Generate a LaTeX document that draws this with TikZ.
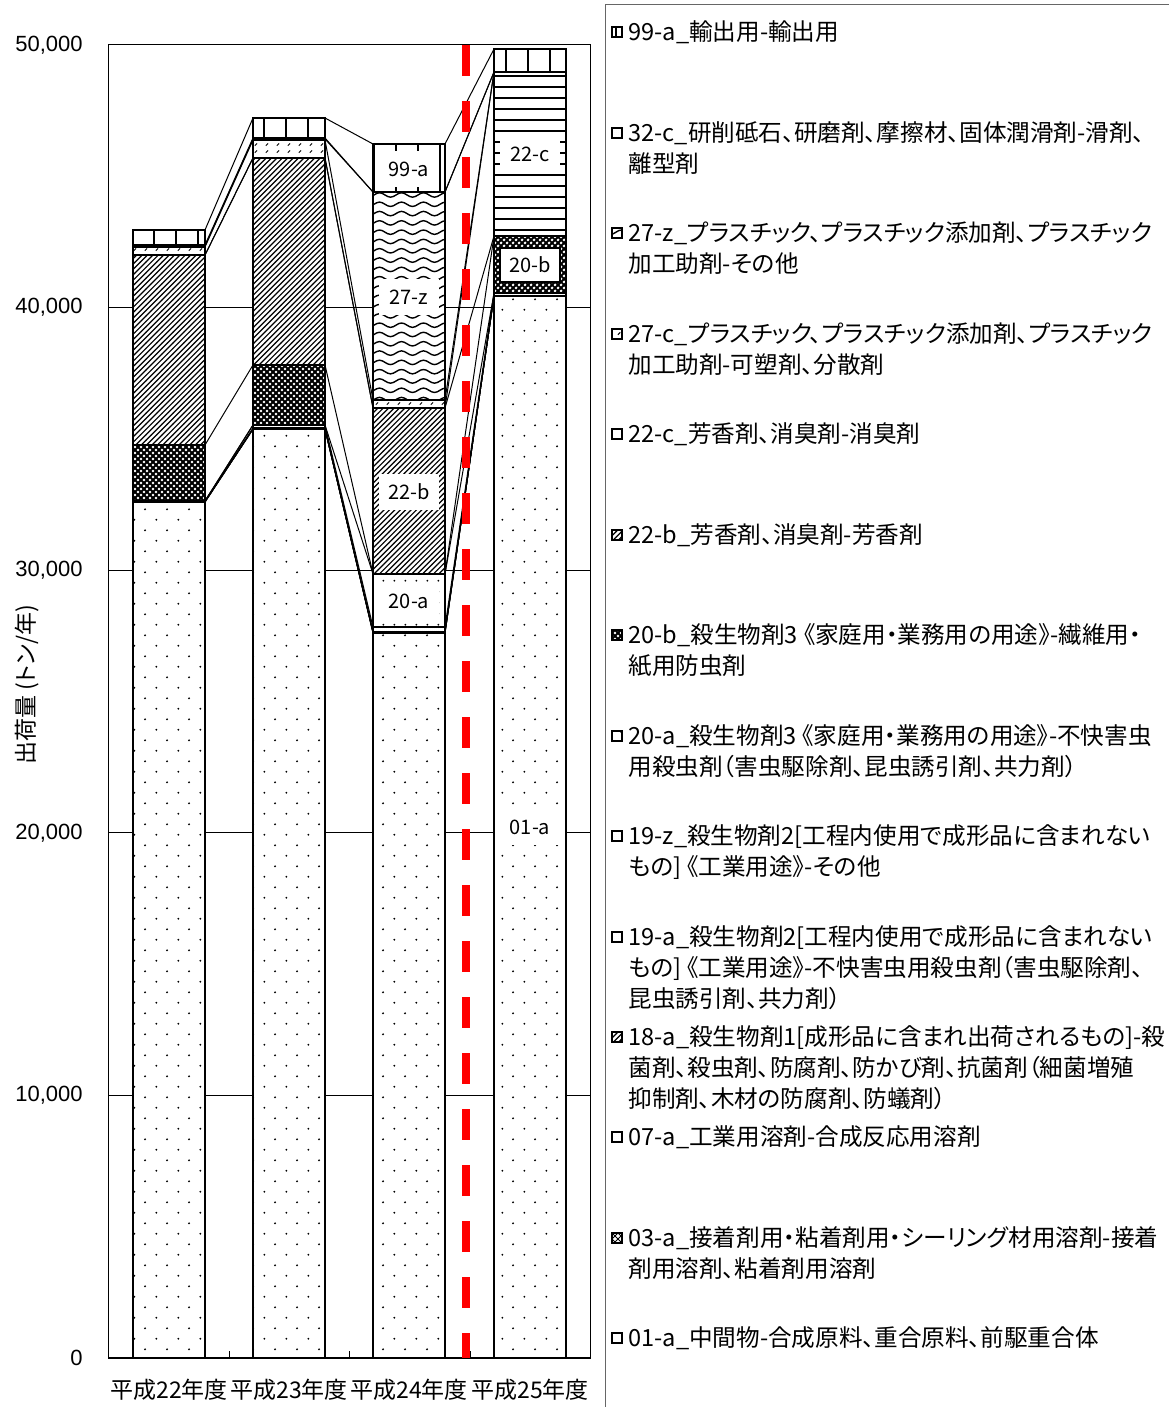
\documentclass[tikz,border=0pt]{standalone}
\usepackage{fontspec}
\setmainfont{Noto Sans CJK JP}[RawFeature={+palt}]
\newfontfamily\numfont{Liberation Sans}
\usetikzlibrary{patterns}

\pgfdeclarepatternformonly{sparsedots}{\pgfqpoint{0pt}{0pt}}{\pgfqpoint{10.8pt}{10.7pt}}{\pgfqpoint{10.8pt}{10.7pt}}{%
  \pgfpathcircle{\pgfqpoint{2.7pt}{2.7pt}}{0.55pt}%
  \pgfpathcircle{\pgfqpoint{8.1pt}{8.05pt}}{0.55pt}%
  \pgfusepath{fill}}
\pgfdeclarepatternformonly{finedots}{\pgfqpoint{0pt}{0pt}}{\pgfqpoint{5.4pt}{5.4pt}}{\pgfqpoint{5.4pt}{5.4pt}}{%
  \pgfpathcircle{\pgfqpoint{2.7pt}{2.7pt}}{0.5pt}%
  \pgfusepath{fill}}
\pgfdeclarepatternformonly{hatch}{\pgfqpoint{-1pt}{-1pt}}{\pgfqpoint{3.7pt}{3.7pt}}{\pgfqpoint{2.7pt}{2.7pt}}{%
  \pgfsetlinewidth{0.6pt}%
  \pgfpathmoveto{\pgfqpoint{0pt}{0pt}}\pgfpathlineto{\pgfqpoint{2.8pt}{2.8pt}}%
  \pgfusepath{stroke}}
\pgfdeclarepatternformonly{crosslines}{\pgfqpoint{-1pt}{-1pt}}{\pgfqpoint{4pt}{4pt}}{\pgfqpoint{3pt}{3pt}}{%
  \pgfsetlinewidth{0.4pt}%
  \pgfpathmoveto{\pgfqpoint{0pt}{0pt}}\pgfpathlineto{\pgfqpoint{3.1pt}{3.1pt}}%
  \pgfpathmoveto{\pgfqpoint{0pt}{3pt}}\pgfpathlineto{\pgfqpoint{3.1pt}{-0.1pt}}%
  \pgfusepath{stroke}}
\pgfdeclarepatternformonly{crossdark}{\pgfqpoint{-1pt}{-1pt}}{\pgfqpoint{4pt}{4pt}}{\pgfqpoint{3pt}{3pt}}{%
  \pgfsetlinewidth{0.9pt}%
  \pgfpathmoveto{\pgfqpoint{0pt}{0pt}}\pgfpathlineto{\pgfqpoint{3.1pt}{3.1pt}}%
  \pgfpathmoveto{\pgfqpoint{0pt}{3pt}}\pgfpathlineto{\pgfqpoint{3.1pt}{-0.1pt}}%
  \pgfusepath{stroke}}
\pgfdeclarepatternformonly{hlines}{\pgfqpoint{-1pt}{-1pt}}{\pgfqpoint{6.5pt}{6.5pt}}{\pgfqpoint{5.5pt}{5.5pt}}{%
  \pgfsetlinewidth{0.8pt}%
  \pgfpathmoveto{\pgfqpoint{-1pt}{0pt}}\pgfpathlineto{\pgfqpoint{6.5pt}{0pt}}%
  \pgfusepath{stroke}}
\pgfdeclarepatternformonly{vgrid}{\pgfqpoint{-1pt}{-1pt}}{\pgfqpoint{12pt}{12pt}}{\pgfqpoint{11pt}{11pt}}{%
  \pgfsetlinewidth{0.9pt}%
  \pgfpathmoveto{\pgfqpoint{0pt}{-1pt}}\pgfpathlineto{\pgfqpoint{0pt}{12pt}}%
  \pgfusepath{stroke}}
\pgfdeclarepatternformonly{wave}{\pgfqpoint{-0.5pt}{-0.5pt}}{\pgfqpoint{11.5pt}{5.15pt}}{\pgfqpoint{11pt}{4.65pt}}{%
  \pgfsetlinewidth{0.7pt}%
  \pgfpathmoveto{\pgfqpoint{0pt}{1.5pt}}%
  \pgfpathsine{\pgfqpoint{2.75pt}{1.1pt}}%
  \pgfpathcosine{\pgfqpoint{2.75pt}{-1.1pt}}%
  \pgfpathsine{\pgfqpoint{2.75pt}{-1.1pt}}%
  \pgfpathcosine{\pgfqpoint{2.75pt}{1.1pt}}%
  \pgfusepath{stroke}}
\pgfdeclarepatternformonly{dashdiag}{\pgfqpoint{0pt}{0pt}}{\pgfqpoint{5.5pt}{3.5pt}}{\pgfqpoint{5.5pt}{3.5pt}}{%
  \pgfsetlinewidth{0.5pt}%
  \pgfpathmoveto{\pgfqpoint{1pt}{0.7pt}}\pgfpathlineto{\pgfqpoint{2.2pt}{1.9pt}}%
  \pgfusepath{stroke}}
\pgfdeclarepatternformonly{blank}{\pgfqpoint{0pt}{0pt}}{\pgfqpoint{1pt}{1pt}}{\pgfqpoint{1pt}{1pt}}{%
  \pgfpathcircle{\pgfqpoint{0.5pt}{0.5pt}}{0.01pt}%
  \pgfusepath{fill}}

\begin{document}
\begin{tikzpicture}[x=0.5pt,y=-0.5pt,
  seg/.style={draw=black,line width=1pt,preaction={fill=white}},
  serline/.style={line width=0.5pt},
  gridline/.style={line width=0.5pt},
  barlabel/.style={fill=white,inner sep=0pt,minimum width=30pt,minimum height=18pt,font=\fontsize{10}{12}\selectfont},
  legicon/.style={draw=black,line width=0.8pt,preaction={fill=white}},
  legtext/.style={anchor=north west,inner sep=0pt,align=left,font=\fontsize{11.8}{15.5}\selectfont}]
  \useasboundingbox (0,0) rectangle (1168,1407);
  % plot area and grid
  \draw[gridline] (108,45) rectangle (590,1358);
  \foreach \k in {1,...,4}
    \draw[gridline] (108,1358-262.6*\k) -- (590,1358-262.6*\k);
  \foreach \k in {0,...,5}
    \node (tick\k) [anchor=east,inner sep=0pt,font=\numfont\fontsize{11}{13}\selectfont]
      at (83,1358-262.6*\k) {\ifnum\k=0 0\else\k0,000\fi};
  \draw[line width=0.8pt] (108,1358) -- (590,1358);
  \foreach \x in {229,349,470}
    \draw[gridline] (\x,1358) -- (\x,1351);
  \node (ytitle) [rotate=90,font=\fontsize{11.5}{13}\selectfont] at (27,685) {出荷量 (トン/年)};
  \foreach \i/\x in {22/169,23/289,24/409,25/530}
    \node (year\i) [inner sep=0pt,font=\fontsize{11.5}{13}\selectfont] at (\x,1390) {平成\i 年度};

  % stacked bars, bottom to top, with series lines
  \foreach \pat/\ya/\yb/\yc/\yd [remember=\ya as \pa (initially 1358),remember=\yb as \pb (initially 1358),
      remember=\yc as \pc (initially 1358),remember=\yd as \pd (initially 1358)] in {
    sparsedots/502/429/633/296, % 01-a
    crosslines/502/429/633/296, % 03-a
    blank/502/429/632/296,      % 07-a
    hatch/501/429/632/296,      % 18-a
    blank/501/428/632/296,      % 19-a
    blank/501/425/627/293,      % 19-z
    finedots/501/425/574/293,   % 20-a
    crossdark/445/365/574/236,  % 20-b
    hatch/255/158/408/236,      % 22-b
    hlines/255/158/408/72,      % 22-c
    dashdiag/247/140/400/72,    % 27-c
    wave/246/139/192/72,        % 27-z
    blank/245/138/192/72,       % 32-c
    vgrid/230/118/144/49}{      % 99-a
    \foreach \xl/\yt/\yp in {133/\ya/\pa,253/\yb/\pb,373/\yc/\pc,494/\yd/\pd}
      \draw[seg,pattern=\pat] (\xl,\yp) rectangle (\xl+72,\yt);
    \draw[serline] (205,\ya) -- (253,\yb) (325,\yb) -- (373,\yc) (445,\yc) -- (494,\yd);
  }

  \node (l99a) [barlabel] at (409,169) {99-a};
  \node (l27z) [barlabel] at (409,297) {27-z};
  \node (l22b) [barlabel] at (409,492) {22-b};
  \node (l20a) [barlabel] at (409,601) {20-a};
  \node (l22c) [barlabel] at (530,154) {22-c};
  \node (l20b) [barlabel,draw=black,line width=1pt,minimum height=17pt] at (530,265) {20-b};
  \node (l01a) [barlabel] at (530,827) {01-a};

  \draw[red,line width=3.85pt,dash pattern=on 15.5pt off 12.5pt] (466,45) -- (466,1358);

  % legend
  \draw[black!60,line width=0.5pt] (605,1410) -- (605,5) -- (1170,5);
  \foreach \y/\pat/\txt [count=\n] in {
    32/vgrid/{99-a\_輸出用-輸出用},
    133/blank/{32-c\_研削砥石、研磨剤、摩擦材、固体潤滑剤-滑剤、\\離型剤},
    233/wave/{27-z\_プラスチック、プラスチック添加剤、プラスチック\\加工助剤-その他},
    334/dashdiag/{27-c\_プラスチック、プラスチック添加剤、プラスチック\\加工助剤-可塑剤、分散剤},
    434/hlines/{22-c\_芳香剤、消臭剤-消臭剤},
    535/hatch/{22-b\_芳香剤、消臭剤-芳香剤},
    635/crossdark/{20-b\_殺生物剤3 《家庭用・業務用の用途》-繊維用・\\紙用防虫剤},
    736/finedots/{20-a\_殺生物剤3 《家庭用・業務用の用途》-不快害虫\\用殺虫剤（害虫駆除剤、昆虫誘引剤、共力剤）},
    836/blank/{19-z\_殺生物剤2[工程内使用で成形品に含まれない\\もの] 《工業用途》-その他},
    937/blank/{19-a\_殺生物剤2[工程内使用で成形品に含まれない\\もの] 《工業用途》-不快害虫用殺虫剤（害虫駆除剤、\\昆虫誘引剤、共力剤）},
    1037/hatch/{18-a\_殺生物剤1[成形品に含まれ出荷されるもの]-殺\\菌剤、殺虫剤、防腐剤、防かび剤、抗菌剤（細菌増殖\\抑制剤、木材の防腐剤、防蟻剤）},
    1137/blank/{07-a\_工業用溶剤-合成反応用溶剤},
    1238/crosslines/{03-a\_接着剤用・粘着剤用・シーリング材用溶剤-接着\\剤用溶剤、粘着剤用溶剤},
    1338/sparsedots/{01-a\_中間物-合成原料、重合原料、前駆重合体}}{
    \draw[legicon,pattern=\pat] (612,\y-5) rectangle (622,\y+5);
    \node (leg\n) [legtext] at (628,\y-12) {\txt};
  }
\end{tikzpicture}
\end{document}
